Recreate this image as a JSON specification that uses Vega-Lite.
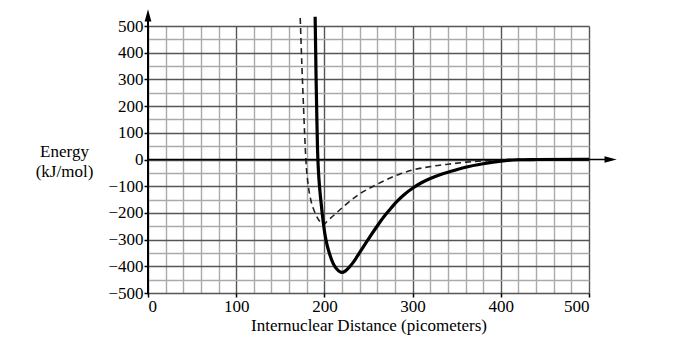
{
  "$schema": "https://vega.github.io/schema/vega-lite/v6.json",
  "width": 441,
  "height": 267,
  "autosize": {"type": "none"},
  "padding": {"left": 148, "top": 26, "right": 89, "bottom": 58},
  "background": "white",
  "config": {
    "view": {"stroke": null},
    "font": "Liberation Serif"
  },
  "datasets": {
    "solid": [
      {"distance": 189.5, "energy": 535},
      {"distance": 190.5, "energy": 320},
      {"distance": 191.4, "energy": 160},
      {"distance": 192.2, "energy": 40},
      {"distance": 193.2, "energy": -40},
      {"distance": 194.7, "energy": -110},
      {"distance": 196.5, "energy": -170},
      {"distance": 198.5, "energy": -230},
      {"distance": 200.6, "energy": -280},
      {"distance": 203.0, "energy": -320},
      {"distance": 206.0, "energy": -355},
      {"distance": 210.0, "energy": -390},
      {"distance": 214.5, "energy": -412},
      {"distance": 219.6, "energy": -423},
      {"distance": 224.0, "energy": -417},
      {"distance": 228.0, "energy": -404},
      {"distance": 232.0, "energy": -388},
      {"distance": 236.6, "energy": -366},
      {"distance": 244.0, "energy": -328},
      {"distance": 251.7, "energy": -289},
      {"distance": 259.3, "energy": -252},
      {"distance": 267.0, "energy": -216},
      {"distance": 274.0, "energy": -188},
      {"distance": 282.0, "energy": -158},
      {"distance": 290.0, "energy": -133},
      {"distance": 300.7, "energy": -106},
      {"distance": 310.0, "energy": -87},
      {"distance": 320.0, "energy": -71},
      {"distance": 331.0, "energy": -57},
      {"distance": 342.6, "energy": -45},
      {"distance": 360.0, "energy": -29},
      {"distance": 380.0, "energy": -16},
      {"distance": 400.0, "energy": -6},
      {"distance": 420.0, "energy": -1},
      {"distance": 440.0, "energy": 0},
      {"distance": 500.0, "energy": 1}
    ],
    "dashed": [
      {"distance": 172.6, "energy": 530},
      {"distance": 174.5, "energy": 350},
      {"distance": 176.3, "energy": 200},
      {"distance": 177.8, "energy": 80},
      {"distance": 179.0, "energy": 0},
      {"distance": 181.8, "energy": -100},
      {"distance": 184.5, "energy": -150},
      {"distance": 189.4, "energy": -200},
      {"distance": 195.0, "energy": -233},
      {"distance": 198.8, "energy": -245},
      {"distance": 202.6, "energy": -233},
      {"distance": 212.0, "energy": -205},
      {"distance": 225.3, "energy": -166},
      {"distance": 240.4, "energy": -128},
      {"distance": 255.5, "energy": -100},
      {"distance": 270.6, "energy": -75},
      {"distance": 285.7, "energy": -54},
      {"distance": 300.7, "energy": -39},
      {"distance": 321.0, "energy": -26},
      {"distance": 342.0, "energy": -17},
      {"distance": 361.0, "energy": -10},
      {"distance": 388.0, "energy": -3.5},
      {"distance": 410.0, "energy": -0.5},
      {"distance": 430.0, "energy": 0},
      {"distance": 500.0, "energy": 0}
    ]
  },
  "layer": [
    {
      "data": {"name": "dashed"},
      "mark": {"type": "line", "color": "#222", "strokeWidth": 1.6, "strokeDash": [6, 4], "interpolate": "monotone"},
      "encoding": {
        "x": {
          "field": "distance", "type": "quantitative",
          "scale": {"domain": [0, 500], "nice": false, "zero": false},
          "axis": {
            "title": "Internuclear Distance (picometers)",
            "values": [0,20,40,60,80,100,120,140,160,180,200,220,240,260,280,300,320,340,360,380,400,420,440,460,480,500],
            "tickCount": 100,
            "labelExpr": "datum.value % 100 === 0 ? datum.label : ''",
            "labelOverlap": false,
            "labelFont": "Liberation Serif", "labelFontSize": 17, "labelColor": "black",
            "labelPadding": 1,
            "titleFont": "Liberation Serif", "titleFontSize": 17, "titleFontWeight": "normal", "titleColor": "black",
            "titlePadding": 3,
            "domain": false,
            "tickSize": 4, "tickColor": "black", "tickWidth": 1.5,
            "tickOpacity": {"condition": {"test": "datum.value % 100 === 0", "value": 1}, "value": 0},
            "grid": true,
            "gridColor": {"condition": {"test": "datum.value % 100 === 0", "value": "#555"}, "value": "#aaa"},
            "gridWidth": 1.4,
            "gridOpacity": 1
          }
        },
        "y": {
          "field": "energy", "type": "quantitative",
          "scale": {"domain": [-500, 500], "nice": false, "zero": false},
          "axis": {
            "title": ["Energy", "(kJ/mol)"],
            "titleAngle": 0, "titleAlign": "center", "titleBaseline": "middle",
            "titleX": -84, "titleY": 125, "titleLineHeight": 20,
            "titleFont": "Liberation Serif", "titleFontSize": 17, "titleFontWeight": "normal", "titleColor": "black",
            "values": [-500,-450,-400,-350,-300,-250,-200,-150,-100,-50,0,50,100,150,200,250,300,350,400,450,500],
            "tickCount": 100,
            "labelExpr": "datum.value % 100 === 0 ? datum.label : ''",
            "labelOverlap": false,
            "labelFont": "Liberation Serif", "labelFontSize": 17, "labelColor": "black",
            "labelPadding": 1,
            "domain": false,
            "tickSize": 4, "tickColor": "black", "tickWidth": 1.5,
            "tickOpacity": {"condition": {"test": "datum.value % 100 === 0", "value": 1}, "value": 0},
            "grid": true,
            "gridColor": {"condition": {"test": "datum.value % 100 === 0", "value": "#555"}, "value": "#aaa"},
            "gridWidth": 1.4,
            "gridOpacity": 1
          }
        }
      }
    },
    {
      "data": {"values": [{"x": 0, "x2": 522, "y": 0}]},
      "mark": {"type": "rule", "color": "black", "strokeWidth": 1.5},
      "encoding": {
        "x": {"field": "x", "type": "quantitative"},
        "x2": {"field": "x2"},
        "y": {"field": "y", "type": "quantitative"}
      }
    },
    {
      "data": {"values": [{"x": 0, "y": -505, "y2": 535}]},
      "mark": {"type": "rule", "color": "black", "strokeWidth": 2},
      "encoding": {
        "x": {"field": "x", "type": "quantitative"},
        "y": {"field": "y", "type": "quantitative"},
        "y2": {"field": "y2"}
      }
    },
    {
      "data": {"values": [{"x": 0, "y": 540}]},
      "mark": {"type": "point", "shape": "M0,-1L0.55,1L-0.55,1Z", "filled": true, "color": "black", "size": 150, "opacity": 1},
      "encoding": {
        "x": {"field": "x", "type": "quantitative"},
        "y": {"field": "y", "type": "quantitative"}
      }
    },
    {
      "data": {"values": [{"x": 524.5, "y": 0}]},
      "mark": {"type": "point", "shape": "M1,0L-1,0.55L-1,-0.55Z", "filled": true, "color": "black", "size": 150, "opacity": 1},
      "encoding": {
        "x": {"field": "x", "type": "quantitative"},
        "y": {"field": "y", "type": "quantitative"}
      }
    },
    {
      "data": {"name": "solid"},
      "mark": {"type": "line", "color": "black", "strokeWidth": 3.2, "interpolate": "monotone"},
      "encoding": {
        "x": {"field": "distance", "type": "quantitative"},
        "y": {"field": "energy", "type": "quantitative"}
      }
    }
  ]
}
